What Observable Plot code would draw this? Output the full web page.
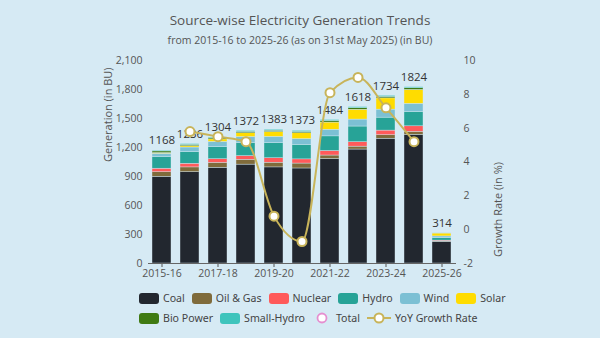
<!DOCTYPE html>
<html>
<head>
<meta charset="utf-8">
<script src="https://cdn.jsdelivr.net/npm/d3@7"></script>
<script src="https://cdn.jsdelivr.net/npm/@observablehq/plot@0.6"></script>
<style>
  html, body { margin: 0; padding: 0; }
  body { width: 600px; height: 338px; background: #d6eaf4; position: relative; overflow: hidden; font-family: "Open Sans", sans-serif; }
  #chart { position: absolute; left: 0; top: 0; }
  .title { position: absolute; left: 0; width: 600px; text-align: center; color: #555; }
  #t1 { top: 11px; font-size: 13.5px; }
  #t2 { top: 33px; font-size: 10.5px; color: #555; }
  .legend { position: absolute; left: 139px; font-family: "Noto Sans", sans-serif; font-size: 10.6px; color: #444; display: flex; align-items: center; white-space: nowrap; }
  .item { display: flex; align-items: center; margin-right: 7px; }
  .sw { width: 20px; height: 11px; border-radius: 3px; margin-right: 4px; }
</style>
</head>
<body>
<div class="title" id="t1">Source-wise Electricity Generation Trends</div>
<div class="title" id="t2">from 2015-16 to 2025-26 (as on 31st May 2025) (in BU)</div>
<div id="chart"></div>
<div class="legend" id="leg1" style="top:291px"></div>
<div class="legend" id="leg2" style="top:311px"></div>
<script>
const years = ["2015-16","2016-17","2017-18","2018-19","2019-20","2020-21","2021-22","2022-23","2023-24","2024-25","2025-26"];
const sources = ["Coal","Oil & Gas","Nuclear","Hydro","Wind","Solar","Bio Power","Small-Hydro"];
const colors = ["#22272f","#7f6b3b","#ff5a5a","#27a397","#7cc0d4","#ffdc00","#3f7a12","#3ec4bc"];
const coal      = [896, 944, 990, 1023, 994, 983, 1081, 1179, 1291, 1330, 224];
const oilGas    = [48, 50, 51, 50, 49, 51, 36, 30, 36, 32, 4];
const nuclear   = [37, 38, 38, 38, 46, 43, 47, 46, 48, 57, 9];
const hydro     = [121, 122, 126, 135, 156, 150, 151, 162, 134, 149, 26];
const wind      = [33, 46, 53, 62, 65, 60, 69, 72, 83, 84, 17];
const solar     = [7.5, 13.5, 26, 39, 50, 60, 74, 102, 116, 144, 30];
const bio       = [17, 14, 15, 16, 14, 15, 16, 16, 17, 17, 2];
const smallHydro= [8.4, 7.7, 5.1, 8.7, 9.4, 10.3, 10.5, 11.2, 9.4, 11, 2];
const totals    = [1168, 1236, 1304, 1372, 1383, 1373, 1484, 1618, 1734, 1824, 314];
const growthYears = years.slice(1, 10);
const growth    = [5.8, 5.5, 5.2, 0.8, -0.7, 8.1, 9.0, 7.2, 5.2];
const rightTicks = [-2, 0, 2, 4, 6, 8, 10];
const leftTicks = [0, 300, 600, 900, 1200, 1500, 1800, 2100];
const xLabels = ["2015-16","2017-18","2019-20","2021-22","2023-24","2025-26"];

const series = [coal, oilGas, nuclear, hydro, wind, solar, bio, smallHydro];
const rows = [];
years.forEach((y, i) => sources.forEach((s, k) => rows.push({year: y, source: s, value: series[k][i]})));

// map growth rate (-2..10) onto the generation scale (0..2100)
const g2y = d3.scaleLinear().domain([-2, 10]).range([0, 2100]);
const gRows = growthYears.map((y, i) => ({year: y, g: growth[i], v: g2y(growth[i])}));
const tRows = years.map((y, i) => ({year: y, total: totals[i]}));

const plot = Plot.plot({
  width: 600, height: 338,
  marginTop: 60, marginBottom: 75, marginLeft: 148, marginRight: 144,
  style: {background: "transparent", fontFamily: "'Open Sans', sans-serif", color: "#555"},
  x: {domain: years, paddingInner: 0.32, paddingOuter: 0.16, label: null},
  y: {domain: [0, 2100], label: null},
  color: {domain: sources, range: colors},
  marks: [
    Plot.barY(rows, {x: "year", y: "value", fill: "source", order: sources, stroke: "#d6eaf4", strokeWidth: 0.4}),
    Plot.axisX({ticks: xLabels, tickSize: 4, fontSize: 10.5, color: "#555", tickPadding: 2, label: null}),
    Plot.ruleY([0], {stroke: "#666", strokeWidth: 1}),
    Plot.axisY({ticks: leftTicks, tickSize: 0, tickPadding: 6, tickFormat: d3.format(","), fontSize: 10.5, color: "#555", label: null}),
    Plot.axisY({anchor: "right", ticks: rightTicks.map(g2y), tickFormat: v => Math.round(g2y.invert(v)) + "", tickSize: 0, tickPadding: 7, fontSize: 10.5, color: "#555", label: null}),
    Plot.text(tRows, {x: "year", y: "total", text: d => d.total + "", dy: -10, fontSize: 11.5, fill: "#333"}),
    Plot.line(gRows, {x: "year", y: "v", curve: "monotone-x", stroke: "#c8b45a", strokeWidth: 2}),
    Plot.dot(gRows, {x: "year", y: "v", r: 4.5, fill: "white", stroke: "#c8b45a", strokeWidth: 2}),
    Plot.text(["Generation (in BU)"], {frameAnchor: "left", dx: -40, rotate: -90, fontSize: 11, fill: "#555"}),
    Plot.text(["Growth Rate (in %)"], {frameAnchor: "right", dx: 42, rotate: -90, fontSize: 11, fill: "#555"})
  ]
});
document.getElementById("chart").appendChild(plot);

const leg1 = document.getElementById("leg1");
const leg2 = document.getElementById("leg2");
sources.forEach((s, k) => {
  const it = document.createElement("div");
  it.className = "item";
  it.innerHTML = `<div class="sw" style="background:${colors[k]}"></div><span>${s}</span>`;
  (k < 6 ? leg1 : leg2).appendChild(it);
});
const tot = document.createElement("div");
tot.className = "item";
tot.innerHTML = `<svg width="20" height="12" style="margin-right:4px"><circle cx="10" cy="6" r="4.5" fill="white" stroke="#e58fd0" stroke-width="1.8"/></svg><span>Total</span>`;
leg2.appendChild(tot);
const yoy = document.createElement("div");
yoy.className = "item";
yoy.innerHTML = `<svg width="24" height="12" style="margin-right:4px"><line x1="0" y1="6" x2="24" y2="6" stroke="#c8b45a" stroke-width="2"/><circle cx="12" cy="6" r="4.5" fill="white" stroke="#c8b45a" stroke-width="2"/></svg><span>YoY Growth Rate</span>`;
leg2.appendChild(yoy);
</script>
</body>
</html>
